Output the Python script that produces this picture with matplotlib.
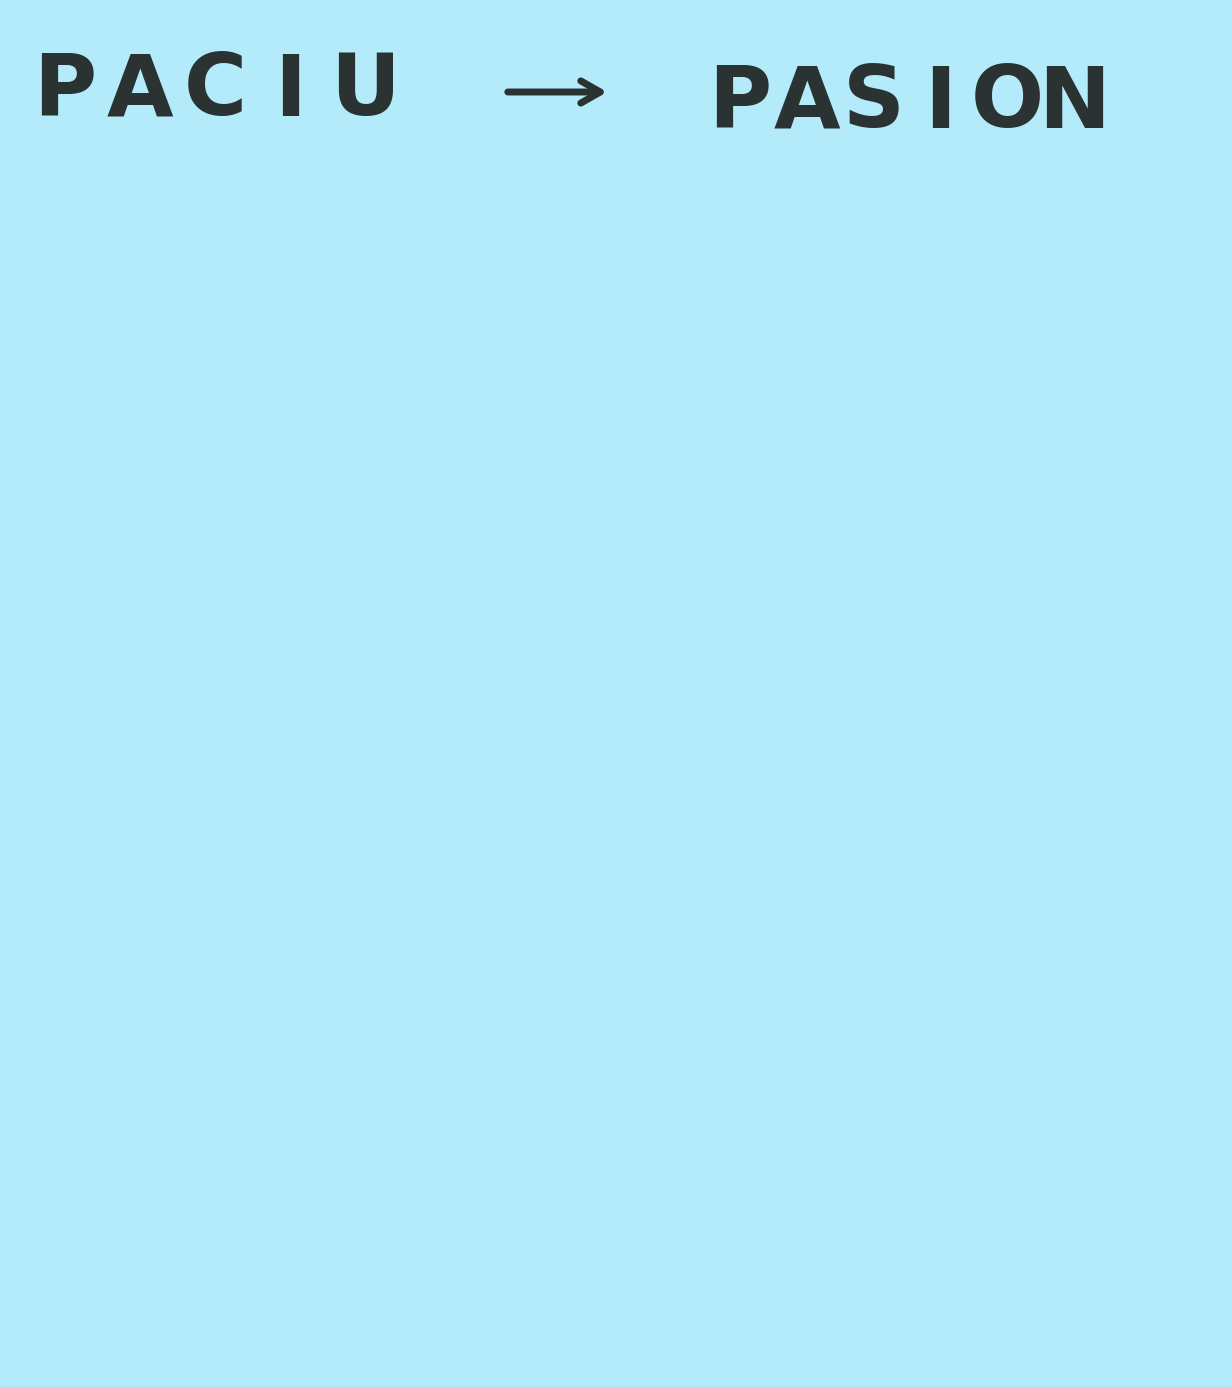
import numpy as np
import matplotlib.pyplot as plt

# words on the note
left_word = 'PACIU'
right_word = 'PASION'

bg_color = '#b3ebfb'
ink_color = '#2b3232'

fig = plt.figure(figsize=(12.32, 13.87), dpi=100, facecolor=bg_color)
ax = fig.add_axes([0, 0, 1, 1])
ax.set_facecolor(bg_color)
ax.set_xlim(0, 1232)
ax.set_ylim(1387, 0)
ax.axis('off')

# hand lettering is spaced wide, so set each letter on its own
for ch, x in zip(left_word, np.linspace(65, 365, len(left_word))):
    ax.text(x, 92, ch, fontsize=62, fontweight='bold', color=ink_color,
            family='DejaVu Sans', ha='center', va='center')

for ch, x in zip(right_word, np.linspace(740, 1074, len(right_word))):
    ax.text(x, 104, ch, fontsize=62, fontweight='bold', color=ink_color,
            family='DejaVu Sans', ha='center', va='center')

ax.annotate('', xy=(610, 92), xytext=(505, 92),
            arrowprops=dict(arrowstyle='->,head_length=1.4,head_width=0.8',
                            color=ink_color, lw=5))

fig.savefig('out.png', dpi=100, facecolor=bg_color)
